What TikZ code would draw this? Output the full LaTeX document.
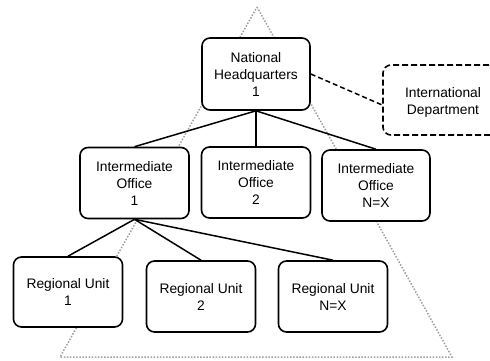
\documentclass[tikz,border=0pt]{standalone}
\usepackage{fontspec}
\setmainfont{Liberation Sans}
\begin{document}
\begin{tikzpicture}[x=1pt,y=-1pt,
  txt/.style={align=center, font=\fontsize{13.8}{17}\selectfont, inner sep=0pt},
  box/.style={txt, draw=black, line width=1.6pt, rounded corners=8pt, fill=white,
    minimum width=109pt, minimum height=71pt},
  dashbox/.style={box, dash pattern=on 6pt off 3pt},
  link/.style={draw=black, line width=1.5pt},
  dashlink/.style={draw=black, line width=1.5pt, dash pattern=on 5pt off 3pt},
  tri/.style={draw=gray!75, line width=1.5pt, dash pattern=on 1.5pt off 1.6pt}]
\clip (0,0) rectangle (490,360);
\coordinate (apex) at (257,7);
\coordinate (br) at (452,357);
\coordinate (bl) at (60,357);
\draw[tri] (apex) -- (br) -- (bl) -- cycle;

\node[box, minimum width=108pt, minimum height=72pt] (hq) at (256,74) {National\\Headquarters\\1};
\node[dashbox, minimum width=150pt, minimum height=70pt] (intl) at (458,100) {};
\node[txt] (intltxt) at (443,102) {International\\Department};

\node[box] (io1) at (134.5,183) {Intermediate\\Office\\1};
\node[box] (io2) at (256,182.5) {Intermediate\\Office\\2};
\node[box, minimum width=108pt] (io3) at (376,185.5) {Intermediate\\Office\\N=X};

\node[box, minimum height=70pt] (ru1) at (68,292) {Regional Unit\\1};
\node[box] (ru2) at (201,296.5) {Regional Unit\\2};
\node[box] (ru3) at (333,296.5) {Regional Unit\\N=X};

\draw[dashlink] (hq.east) -- ([yshift=-5pt]intl.west);
\draw[link] (hq.south) -- (io1.north);
\draw[link] (hq.south) -- (io2.north);
\draw[link] (hq.south) -- (io3.north);
\draw[link] (io1.south) -- (ru1.north);
\draw[link] (io1.south) -- (ru2.north);
\draw[link] (io1.south) -- (ru3.north);
\end{tikzpicture}
\end{document}
